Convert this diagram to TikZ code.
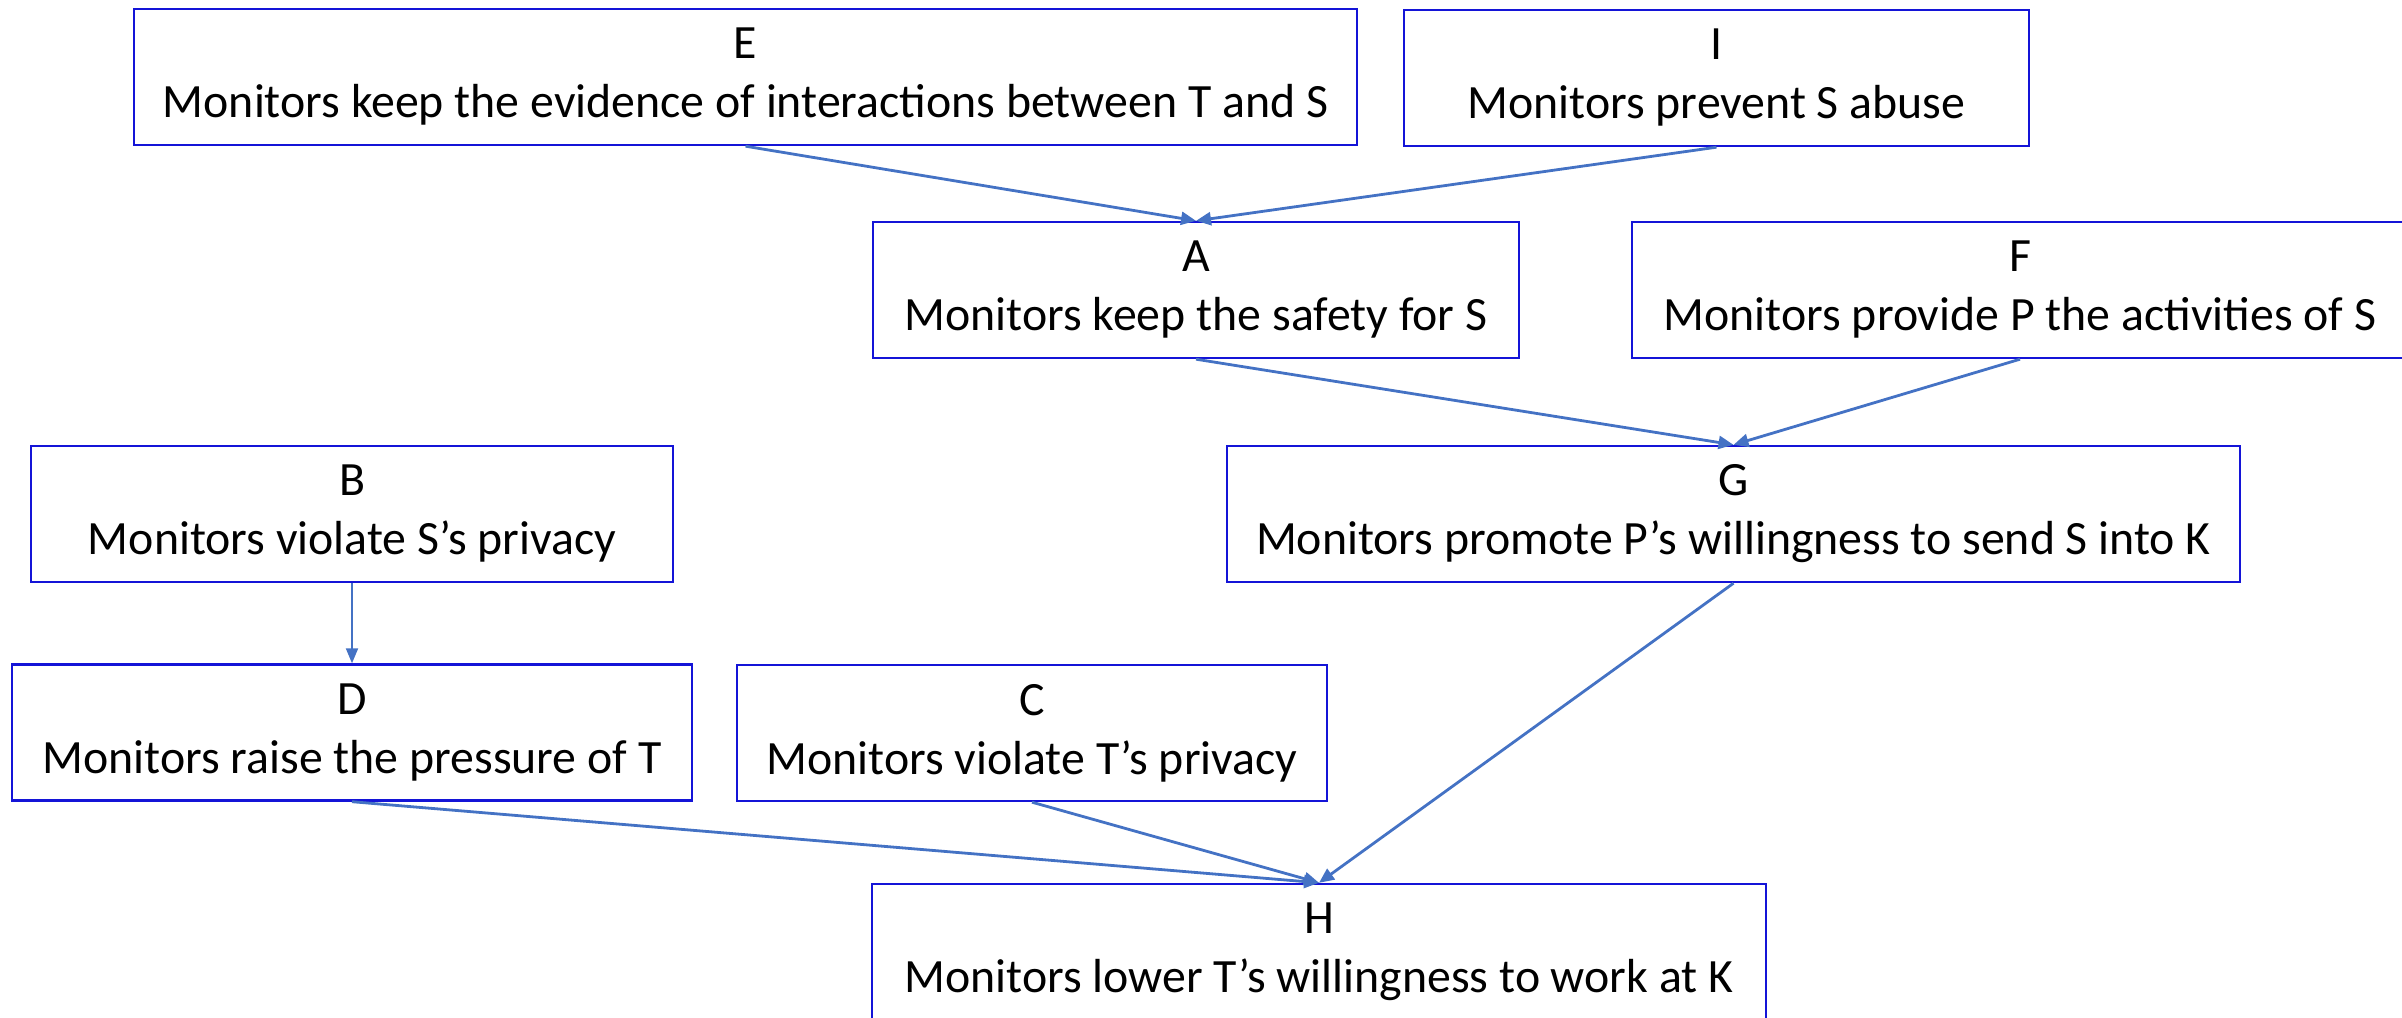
\documentclass[tikz,border=0pt]{standalone}
\usepackage{fontspec}
\setmainfont{Carlito}
\usetikzlibrary{arrows.meta}
\definecolor{boxblue}{RGB}{20,20,215}
\definecolor{arrowblue}{RGB}{68,114,196}
\begin{document}
\begin{tikzpicture}[x=0.5pt,y=-0.5pt,
  box/.style={draw=boxblue, line width=1.2pt, rectangle, align=center, inner sep=0pt,
    minimum height=68pt, font=\fontsize{23.9pt}{29.5pt}\selectfont},
  conn/.style={draw=arrowblue, line width=1.4pt, -{Triangle[length=7.5pt,width=6.5pt]}},
  thinconn/.style={draw=arrowblue, line width=1pt, -{Triangle[length=7.5pt,width=6pt]}}]
\clip (0,0) rectangle (2402,1017);
\node[box, minimum width=611.5pt] (e) at (745.5,77) {E\\Monitors keep the evidence of interactions between T and S};
\node[box, minimum width=312.5pt] (i) at (1716.5,78) {I\\Monitors prevent S abuse};
\node[box, minimum width=323pt] (a) at (1196,290) {A\\Monitors keep the safety for S};
\node[box, minimum width=388pt] (f) at (2020,290) {F\\Monitors provide P the activities of S};
\node[box, minimum width=321pt] (b) at (352,514) {B\\Monitors violate S’s privacy};
\node[box, minimum width=506.5pt] (g) at (1733.5,514) {G\\Monitors promote P’s willingness to send S into K};
\node[box, minimum width=340pt] (d) at (352,732.5) {D\\Monitors raise the pressure of T};
\node[box, minimum width=295pt] (c) at (1032,733) {C\\Monitors violate T’s privacy};
\node[box, minimum width=447pt] (h) at (1319,952) {H\\Monitors lower T’s willingness to work at K};
\draw[conn] (e.south) -- (a.north);
\draw[conn] (i.south) -- (a.north);
\draw[conn] (a.south) -- (g.north);
\draw[conn] (f.south) -- (g.north);
\draw[thinconn] (b.south) -- (d.north);
\draw[conn] (d.south) -- (h.north);
\draw[conn] (c.south) -- (h.north);
\draw[conn] (g.south) -- (h.north);
\end{tikzpicture}
\end{document}
